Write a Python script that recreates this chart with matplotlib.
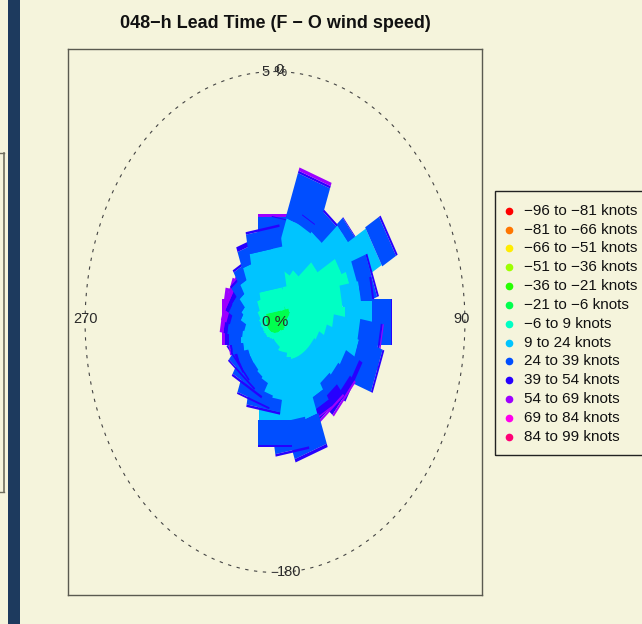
import numpy as np
import matplotlib
matplotlib.use("Agg")
import matplotlib.pyplot as plt
from matplotlib.patches import Polygon, Ellipse, Rectangle
from matplotlib.lines import Line2D

plt.rcParams['font.family'] = ['Liberation Sans', 'DejaVu Sans']

# ---------------- data ----------------
directions = [0, 10, 20, 30, 40, 50, 60, 70, 80, 90, 100, 110, 120, 130, 140, 150, 160, 170,
              180, 190, 200, 210, 220, 230, 240, 250, 260, 270, 280, 290, 300, 310, 320, 330, 340, 350]

speed_labels = ["\u221296 to \u221281 knots", "\u221281 to \u221266 knots", "\u221266 to \u221251 knots",
                "\u221251 to \u221236 knots", "\u221236 to \u221221 knots", "\u221221 to \u22126 knots",
                "\u22126 to 9 knots", "9 to 24 knots", "24 to 39 knots", "39 to 54 knots",
                "54 to 69 knots", "69 to 84 knots", "84 to 99 knots"]
speed_colors = ["#FF0000", "#FF7600", "#FFEC00", "#9DFF00", "#27FF00", "#00FF4E", "#00FFC4",
                "#00C4FF", "#004EFF", "#2700FF", "#9D00FF", "#FF00EC", "#FF0076"]

# frequency (%) per direction for each speed interval
f_m96 = [0.0] * 36
f_m81 = [0.0] * 36
f_m66 = [0.0] * 36
f_m51 = [0.0] * 36
f_m36 = [0.0] * 36
f_m21 = [0.2, 0.2, 0.2, 0.2, 0.25, 0.3, 0.3, 0.35, 0.4, 0.4, 0.35, 0.3, 0.25, 0.2, 0.2, 0.2, 0.2, 0.2,
         0.15, 0.15, 0.1, 0.1, 0.1, 0.1, 0.1, 0.1, 0.1, 0.1, 0.1, 0.1, 0.1, 0.1, 0.1, 0.15, 0.15, 0.2]
f_m6 = [0.55, 0.65, 0.75, 0.8, 0.85, 1.2, 1.7, 1.75, 1.4, 1.45, 1.15, 1.0, 0.85, 0.8, 0.75, 0.7, 0.65, 0.6,
        0.55, 0.4, 0.4, 0.35, 0.2, 0.15, 0.1, 0.1, 0.1, 0.1, 0.1, 0.1, 0.1, 0.15, 0.2, 0.25, 0.4, 0.45]
f_9 = [0.8, 0.65, 1.1, 1.0, 0.9, 1.0, 1.0, 0.2, 0.5, 0.7, 0.7, 0.9, 0.8, 0.8, 0.75, 0.9, 1.25, 1.2,
       1.26, 0.95, 0.9, 0.7, 0.75, 0.7, 0.7, 0.65, 0.7, 0.7, 0.6, 0.5, 0.6, 0.55, 0.65, 0.7, 0.75, 0.8]
f_24 = [0.55, 0.55, 0.95, 0.2, 0.5, 0.2, 0.42, 0.4, 0.3, 0.5, 0.55, 0.65, 0.4, 0.4, 0.3, 0.25, 0.65, 0.6,
        0.49, 0.25, 0.25, 0.3, 0.3, 0.3, 0.3, 0.3, 0.3, 0.32, 0.4, 0.4, 0.35, 0.3, 0.3, 0.3, 0.35, 0.4]
f_39 = [0.0, 0.02, 0.05, 0.02, 0.05, 0.02, 0.05, 0.05, 0.05, 0.04, 0.05, 0.05, 0.1, 0.15, 0.25, 0.15, 0.07, 0.05,
        0.05, 0.05, 0.04, 0.05, 0.04, 0.04, 0.05, 0.05, 0.05, 0.1, 0.1, 0.1, 0.1, 0.05, 0.05, 0.05, 0.1, 0.05]
f_54 = [0.05, 0, 0.07, 0, 0, 0, 0, 0, 0, 0, 0.03, 0, 0, 0.05, 0.05, 0.03, 0, 0,
        0, 0, 0, 0, 0, 0, 0, 0, 0.03, 0.08, 0.1, 0.15, 0.1, 0, 0, 0, 0, 0]
f_69 = [0.0] * 36
f_84 = [0.0] * 36

freqs = [f_m96, f_m81, f_m66, f_m51, f_m36, f_m21, f_m6, f_9, f_24, f_39, f_54, f_69, f_84]

title = "048\u2212h Lead Time (F \u2212 O wind speed)"
ring_value = 5

# paddle half-width per speed interval (style)
half_w = [0.2, 0.2, 0.2, 0.2, 0.2, 0.2, 0.3, 0.42, 0.45, 0.45, 0.45, 0.45, 0.45]

# ---------------- figure ----------------
bg = "#f5f4dc"
W, H = 642, 624
fig = plt.figure(figsize=(W / 100, H / 100), dpi=100, facecolor=bg)

# left decorations
fig.add_artist(Rectangle((8 / W, 0), 12 / W, 1, transform=fig.transFigure,
                         facecolor="#1d3a5e", edgecolor="none"))
fig.add_artist(Line2D([4 / W, 4 / W], [1 - 153 / H, 1 - 492 / H], transform=fig.transFigure,
                      color="#6e6e5e", lw=1.2))
fig.add_artist(Line2D([0, 4 / W], [1 - 153 / H, 1 - 153 / H], transform=fig.transFigure,
                      color="#6e6e5e", lw=1.0))
fig.add_artist(Line2D([0, 4 / W], [1 - 492 / H, 1 - 492 / H], transform=fig.transFigure,
                      color="#6e6e5e", lw=1.0))

ax = fig.add_axes([68 / W, 1 - 595 / H, (482 - 68) / W, (595 - 49) / H])
ax.set_facecolor(bg)
L = 5.45
ax.set_xlim(-L, L)
ax.set_ylim(-L, L)
ax.set_xticks([])
ax.set_yticks([])
for s in ax.spines.values():
    s.set_color("#5a5a50")
    s.set_linewidth(1.0)

# rose: paddles, each direction drawn as a stack
F = np.array(freqs, dtype=float)          # levels x directions
C = np.vstack([np.zeros(F.shape[1]), np.cumsum(F, axis=0)])
for j, d in enumerate(directions):
    th = np.deg2rad(d)
    ux, uy = np.sin(th), np.cos(th)
    px, py = np.cos(th), -np.sin(th)
    for lev in range(F.shape[0]):
        r1, r2 = C[lev, j], C[lev + 1, j]
        if r2 - r1 <= 0:
            continue
        w = half_w[lev]
        pts = [(r1 * ux - w * px, r1 * uy - w * py),
               (r1 * ux + w * px, r1 * uy + w * py),
               (r2 * ux + w * px, r2 * uy + w * py),
               (r2 * ux - w * px, r2 * uy - w * py)]
        ax.add_patch(Polygon(pts, closed=True, facecolor=speed_colors[lev],
                             edgecolor="none", lw=0))

# grid circle
ax.add_patch(Ellipse((0, 0), 2 * ring_value, 2 * ring_value, fill=False,
                     edgecolor="#444444", lw=0.8, linestyle=(0, (3, 5))))

lab_kw = dict(ha="center", va="center", fontsize=10.5, color="#2a2a2a")
ax.text(0, ring_value, f"{ring_value} %", **lab_kw)
ax.text(0.13, ring_value + 0.03, "0", **lab_kw)
ax.text(ring_value - 0.1, 0.05, "90", **lab_kw)
ax.text(0.37, -ring_value, "180", **lab_kw)
ax.text(-ring_value, 0.05, "270", **lab_kw)
ax.text(0, 0, "0 %", ha="center", va="center", fontsize=11, color="#2a2a2a")

# title
fig.text(275 / W, 1 - 23 / H, title, ha="center", va="center", fontsize=13,
         fontweight="bold", color="#111111")

# legend
fig.add_artist(Rectangle((495 / W, 1 - 455 / H), 160 / W, (455 - 191) / H,
                         transform=fig.transFigure, facecolor="none",
                         edgecolor="#222222", lw=1.0))
y0, dy = 210.7, 18.83
for i, (lab, col) in enumerate(zip(speed_labels, speed_colors)):
    yy = 1 - (y0 + i * dy) / H
    fig.add_artist(Line2D([509 / W], [yy], transform=fig.transFigure, marker="o",
                          markersize=4.5, color=col, markeredgecolor=col, lw=0))
    fig.text(524 / W, yy, lab, ha="left", va="center", fontsize=11, color="#111111")

fig.savefig("out.png", dpi=100, facecolor=bg)
